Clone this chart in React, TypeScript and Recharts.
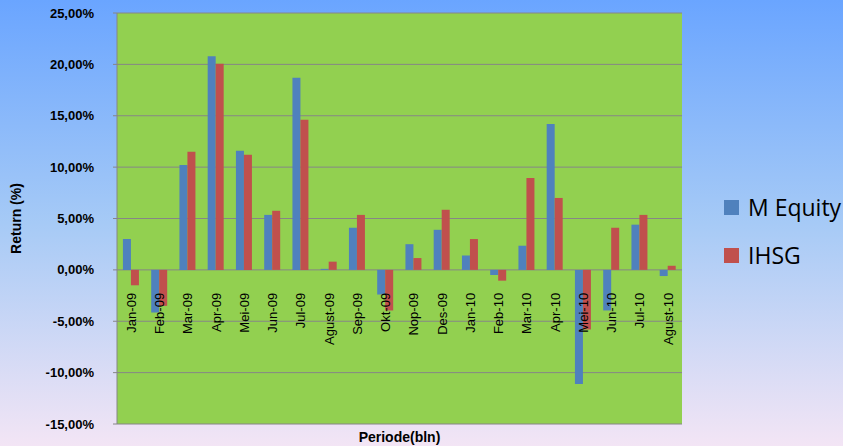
import React from 'react';
import { BarChart, Bar, XAxis, YAxis, CartesianGrid, Legend } from 'recharts';

// Monthly returns, Jan 2009 - Aug 2010
const months = [
  'Jan-09', 'Feb-09', 'Mar-09', 'Apr-09', 'Mei-09', 'Jun-09', 'Jul-09', 'Agust-09', 'Sep-09', 'Okt-09',
  'Nop-09', 'Des-09', 'Jan-10', 'Feb-10', 'Mar-10', 'Apr-10', 'Mei-10', 'Jun-10', 'Jul-10', 'Agust-10',
];
const mEquity = [3.0, -4.15, 10.2, 20.8, 11.6, 5.35, 18.7, 0.1, 4.1, -2.4, 2.5, 3.9, 1.4, -0.5, 2.35, 14.2, -11.1, -3.95, 4.4, -0.6];
const ihsg = [-1.5, -3.5, 11.5, 20.05, 11.2, 5.75, 14.6, 0.8, 5.35, -3.95, 1.15, 5.85, 3.0, -1.05, 8.95, 7.0, -5.8, 4.1, 5.35, 0.4];
const yTicks = [-15, -10, -5, 0, 5, 10, 15, 20, 25];

const data = months.map((m, i) => ({ month: m, mEquity: mEquity[i], ihsg: ihsg[i] }));

const W = 843;
const H = 446;
const TOP = 13;
const BOTTOM = 22;
const LEFT = 117;
const RIGHT = 161;
const PLOT_H = H - TOP - BOTTOM;
const ZERO_Y = TOP + PLOT_H * (25 / 40);

const FONT = '"Liberation Sans", Arial, sans-serif';

const MonthTick = (props: any) => {
  const { x, payload } = props;
  const y = ZERO_Y + 23;
  return (
    <text
      x={x}
      y={y}
      dy="0.36em"
      transform={`rotate(-90, ${x}, ${y})`}
      textAnchor="end"
      fontSize={13}
      fontFamily={FONT}
      fill="#000"
    >
      {payload.value}
    </text>
  );
};

const fmtPct = (v: number) => `${v.toFixed(2).replace('.', ',')}%`;

const LegendBox = () => (
  <div style={{ fontFamily: '"Open Sans", sans-serif', fontSize: 23, color: '#000', textAlign: 'left', whiteSpace: 'nowrap' }}>
    {[
      { name: 'M Equity', color: '#4f81bd' },
      { name: 'IHSG', color: '#c0504d' },
    ].map((it) => (
      <div key={it.name} style={{ display: 'flex', alignItems: 'center', height: 48 }}>
        <span style={{ width: 15, height: 15, background: it.color, display: 'inline-block', marginRight: 9, flexShrink: 0 }} />
        <span style={{ lineHeight: '23px' }}>{it.name}</span>
      </div>
    ))}
  </div>
);

export default function App() {
  return (
    <div
      style={{
        position: 'absolute',
        left: 0,
        top: 0,
        width: W,
        height: H,
        overflow: 'hidden',
        background: 'linear-gradient(to bottom, #6aa5ff 0%, #a6caf6 50%, #f3e5f5 100%)',
      }}
    >
      <BarChart
        width={W}
        height={H}
        data={data}
        margin={{ top: TOP, right: RIGHT, bottom: 0, left: 0 }}
        barGap={0}
        barCategoryGap="21%"
      >
        <CartesianGrid vertical={false} stroke="#868686" fill="#92d050" fillOpacity={1} />
        <XAxis
          dataKey="month"
          height={BOTTOM}
          axisLine={false}
          tickLine={false}
          interval={0}
          tick={<MonthTick />}
          label={(p: any) => {
            const vb = p.viewBox;
            return (
              <text
                x={vb.x + vb.width / 2}
                y={437}
                dy="0.35em"
                textAnchor="middle"
                fontSize={14}
                fontWeight="bold"
                fontFamily={FONT}
                fill="#000"
              >
                Periode(bln)
              </text>
            );
          }}
        />
        <YAxis
          domain={[-15, 25]}
          ticks={yTicks}
          width={LEFT}
          interval={0}
          tickFormatter={fmtPct}
          axisLine={{ stroke: '#868686' }}
          tickLine={{ stroke: '#868686' }}
          tickSize={4}
          tickMargin={19}
          tick={{ fontSize: 13, fontWeight: 'bold', fontFamily: FONT, fill: '#000' }}
          label={() => (
            <text
              x={16}
              y={TOP + PLOT_H / 2}
              dy="0.35em"
              transform={`rotate(-90, 16, ${TOP + PLOT_H / 2})`}
              textAnchor="middle"
              fontSize={14}
              fontWeight="bold"
              fontFamily={FONT}
              fill="#000"
            >
              Return (%)
            </text>
          )}
        />
        <Bar dataKey="mEquity" name="M Equity" fill="#4f81bd" isAnimationActive={false} />
        <Bar dataKey="ihsg" name="IHSG" fill="#c0504d" isAnimationActive={false} />
        <Legend
          layout="horizontal"
          verticalAlign="middle"
          align="center"
          content={<LegendBox />}
          wrapperStyle={{ position: 'absolute', left: 724, top: 183, width: 125, bottom: 'auto', right: 'auto' }}
        />
      </BarChart>
    </div>
  );
}
